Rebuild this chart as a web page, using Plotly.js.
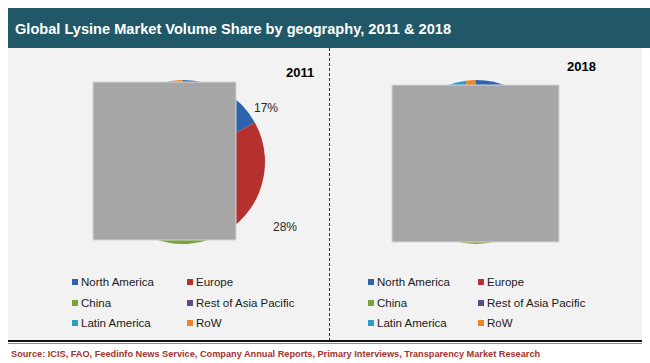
<!DOCTYPE html>
<html><head><meta charset="utf-8">
<script src="https://cdn.plot.ly/plotly-3.0.1.min.js"></script>
<style>html,body{margin:0;padding:0;background:#fff;}#chart{width:650px;height:363px;}</style>
</head><body><div id="chart"></div>
<script>
// ---- data ----
const regions = ['North America', 'Europe', 'China', 'Rest of Asia Pacific', 'Latin America', 'RoW'];
const years = ['2011', '2018'];
const share2011 = [17, 28, 30, 15, 8, 2];
const share2018 = [16, 25, 36, 13, 8, 2];
const shownLabels2011 = ['North America', 'Europe'];
const colors = ['#2e64ae', '#b5312f', '#79a337', '#5e4885', '#2d9cc6', '#f0832a'];
const titleText = 'Global Lysine Market Volume Share by geography, 2011 & 2018';
const sourceText = 'Source: ICIS, FAO, Feedinfo News Service, Company Annual Reports, Primary Interviews, Transparency Market Research';

// ---- layout helpers (pixel -> paper) ----
const W = 650, H = 363;
const X = p => p / W;
const Y = p => 1 - p / H;
const FONT = 'Liberation Sans, Arial, sans-serif';

const pies = [
  {cx: 183, cy: 162, r: 82, values: share2011, year: years[0], yearPos: [300, 72],
   legendX: 72, colStep: 115, box: [93, 82, 236, 240]},
  {cx: 476, cy: 162, r: 82, values: share2018, year: years[1], yearPos: [581, 66],
   legendX: 368, colStep: 110, box: [392, 85, 559, 242]}
];
const legendRows = [282, 303, 323];

const traces = pies.map(p => ({
  type: 'pie',
  labels: regions,
  values: p.values,
  sort: false,
  direction: 'clockwise',
  rotation: 0,
  textinfo: 'none',
  hoverinfo: 'label+percent',
  showlegend: false,
  marker: {colors: colors, line: {width: 0}},
  domain: {x: [X(p.cx - p.r), X(p.cx + p.r)], y: [Y(p.cy + p.r), Y(p.cy - p.r)]}
}));

const shapes = [
  // header bar
  {type: 'rect', xref: 'paper', yref: 'paper', layer: 'below', x0: X(8), x1: X(650), y0: Y(48), y1: Y(8),
   fillcolor: '#215867', line: {width: 0}},
  // grey panel
  {type: 'rect', xref: 'paper', yref: 'paper', layer: 'below', x0: X(8), x1: X(642), y0: Y(340), y1: Y(48),
   fillcolor: '#f2f2f2', line: {width: 0}},
  // dashed divider
  {type: 'line', xref: 'paper', yref: 'paper', layer: 'below', x0: X(329.5), x1: X(329.5), y0: Y(48), y1: Y(340),
   line: {color: '#303030', width: 1, dash: '3px,2px'}},
  // bottom rules
  {type: 'line', xref: 'paper', yref: 'paper', layer: 'below', x0: X(8), x1: X(642), y0: Y(341), y1: Y(341),
   line: {color: '#111111', width: 2}},
  {type: 'line', xref: 'paper', yref: 'paper', layer: 'below', x0: X(8), x1: X(642), y0: Y(343.5), y1: Y(343.5),
   line: {color: '#8a8a8a', width: 1}}
];

pies.forEach(p => {
  shapes.push({type: 'rect', xref: 'paper', yref: 'paper', layer: 'above',
    x0: X(p.box[0]), x1: X(p.box[2]), y0: Y(p.box[3]), y1: Y(p.box[1]),
    fillcolor: '#a6a6a6', line: {color: '#d4d4d4', width: 1}});
});

const annotations = [];
pies.forEach(p => {
  annotations.push({xref: 'paper', yref: 'paper', x: X(p.yearPos[0]), y: Y(p.yearPos[1]),
    xanchor: 'center', yanchor: 'middle', showarrow: false, text: '<b>' + p.year + '</b>',
    font: {family: FONT, size: 13, color: '#000000'}});
  regions.forEach((name, i) => {
    const col = i % 2, row = Math.floor(i / 2);
    const sx = p.legendX + col * p.colStep, sy = legendRows[row];
    shapes.push({type: 'rect', xref: 'paper', yref: 'paper', layer: 'above',
      x0: X(sx), x1: X(sx + 6), y0: Y(sy + 3), y1: Y(sy - 3),
      fillcolor: colors[i], line: {width: 0}});
    annotations.push({xref: 'paper', yref: 'paper', x: X(sx + 7), y: Y(sy),
      xanchor: 'left', yanchor: 'middle', showarrow: false, text: name,
      font: {family: FONT, size: 11.5, color: '#1a1a1a'}});
  });
});

// percentage labels for 2011 (only the visible ones)
const total2011 = share2011.reduce((a, b) => a + b, 0);
const pctPos = {'North America': [266, 108], 'Europe': [284.5, 227]};
shownLabels2011.forEach(name => {
  const i = regions.indexOf(name);
  annotations.push({xref: 'paper', yref: 'paper', x: X(pctPos[name][0]), y: Y(pctPos[name][1]),
    xanchor: 'center', yanchor: 'middle', showarrow: false,
    text: Math.round(share2011[i] / total2011 * 100) + '%',
    font: {family: FONT, size: 12, color: '#262626'}});
});

// source line
annotations.push({xref: 'paper', yref: 'paper', x: X(9), y: Y(353.5), xanchor: 'left', yanchor: 'middle',
  showarrow: false, text: '<b>' + sourceText + '</b>', font: {family: FONT, size: 9.2, color: '#a5322e'}});

const layout = {
  width: W, height: H,
  margin: {l: 0, r: 0, t: 0, b: 0, pad: 0},
  paper_bgcolor: '#ffffff',
  plot_bgcolor: 'rgba(0,0,0,0)',
  showlegend: false,
  title: {text: '<b>' + titleText + '</b>', xref: 'container', yref: 'container',
    x: X(15), xanchor: 'left', y: Y(29), yanchor: 'middle',
    font: {family: FONT, size: 14.6, color: '#ffffff'}},
  shapes: shapes,
  annotations: annotations
};

Plotly.newPlot('chart', traces, layout, {displayModeBar: false, staticPlot: true});
</script>
</body></html>
